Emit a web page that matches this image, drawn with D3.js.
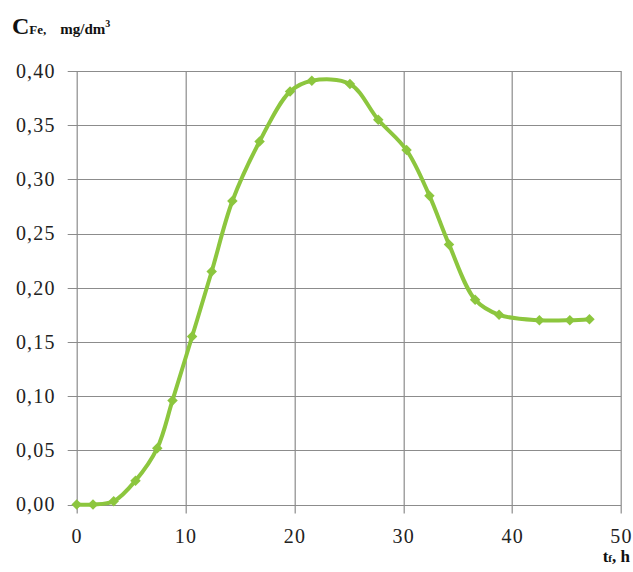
<!DOCTYPE html>
<html>
<head>
<meta charset="utf-8">
<script src="https://cdn.jsdelivr.net/npm/d3@7"></script>
<style>
  body { margin: 0; background: #fff; }
  text { font-family: "Liberation Serif", "Times New Roman", serif; }
</style>
</head>
<body>
<div id="chart"></div>
<script>
// time, h and iron concentration, mg/dm3
var hours = [0, 1.5, 3.4, 5.4, 7.4, 8.8, 10.6, 12.4, 14.3, 16.8, 19.6, 21.6, 25.1, 27.7, 30.3, 32.4, 34.2, 36.6, 38.8, 42.5, 45.3, 47.1];
var conc  = [0, 0, 0.003, 0.022, 0.052, 0.096, 0.155, 0.215, 0.280, 0.335, 0.381, 0.391, 0.388, 0.355, 0.327, 0.285, 0.240, 0.189, 0.175, 0.170, 0.170, 0.171];
var xTicks = [0, 10, 20, 30, 40, 50];
var yTicks = [0, 0.05, 0.10, 0.15, 0.20, 0.25, 0.30, 0.35, 0.40];

var W = 633, H = 572,
    margin = {top: 71, right: 12, bottom: 67.5, left: 76.7},
    width = W - margin.left - margin.right,
    height = H - margin.top - margin.bottom;

var green = "#8cc63e", gridColor = "#8c8c8c";
var serif = '"Liberation Serif", "Times New Roman", serif';

var svg = d3.select("#chart").append("svg")
    .attr("width", W).attr("height", H)
  .append("g")
    .attr("transform", "translate(" + margin.left + "," + margin.top + ")");

var x = d3.scaleLinear().domain([0, 50]).range([0, width]);
var y = d3.scaleLinear().domain([0, 0.40]).range([height, 0]);

// gridlines
svg.append("g")
   .selectAll("line.gy").data(yTicks).enter().append("line")
   .attr("x1", -9).attr("x2", width)
   .attr("y1", d => Math.round(y(d)) + 0.5).attr("y2", d => Math.round(y(d)) + 0.5)
   .attr("stroke", gridColor).attr("stroke-width", 1.2);
svg.append("g")
   .selectAll("line.gx").data(xTicks).enter().append("line")
   .attr("y1", 0).attr("y2", height + 9)
   .attr("x1", d => Math.round(x(d)) + 0.5).attr("x2", d => Math.round(x(d)) + 0.5)
   .attr("stroke", gridColor).attr("stroke-width", 1.2);

// axis labels
var fmt = d3.format(".2f");
svg.append("g")
   .attr("font-family", serif)
   .call(d3.axisLeft(y).tickValues(yTicks).tickSize(0).tickPadding(21)
         .tickFormat(d => fmt(d).replace(".", ",")))
   .attr("font-family", serif)
   .call(g => g.select(".domain").remove())
   .selectAll("text")
   .style("font-family", serif)
   .style("font-size", "20px").attr("fill", "#222")
   .attr("letter-spacing", "1.2px");

svg.append("g")
   .attr("transform", "translate(0," + height + ")")
   .call(d3.axisBottom(x).tickValues(xTicks).tickSize(0).tickPadding(24))
   .attr("font-family", serif)
   .call(g => g.select(".domain").remove())
   .selectAll("text")
   .style("font-family", serif)
   .style("font-size", "20px").attr("fill", "#222")
   .attr("letter-spacing", "1.2px");

// curve
var pts = hours.map((h, i) => [h, conc[i]]);
svg.append("path")
   .datum(pts)
   .attr("fill", "none")
   .attr("stroke", green)
   .attr("stroke-width", 4)
   .attr("stroke-linejoin", "round")
   .attr("d", d3.line().x(d => x(d[0])).y(d => y(d[1])).curve(d3.curveCatmullRom.alpha(0.5)));

svg.selectAll(".marker").data(pts).enter().append("path")
   .attr("class", "marker")
   .attr("d", d3.symbol().type(d3.symbolSquare).size(55))
   .attr("transform", d => "translate(" + x(d[0]) + "," + y(d[1]) + ") rotate(45)")
   .attr("fill", green);

// title
var title = d3.select("svg").append("text")
   .attr("x", 12).attr("y", 34)
   .attr("font-weight", "bold").attr("fill", "#111");
title.append("tspan").text("C").style("font-size", "24px");
title.append("tspan").text("Fe,").style("font-size", "13px");
title.append("tspan").text("mg/dm").attr("dx", 14).style("font-size", "15px");
title.append("tspan").text("3").attr("dy", -7).style("font-size", "10px");

// x axis title
var xt = d3.select("svg").append("text")
   .attr("x", 630).attr("y", 562)
   .attr("text-anchor", "end")
   .attr("font-weight", "bold").attr("fill", "#111");
xt.append("tspan").text("t").style("font-size", "17px");
xt.append("tspan").text("f").style("font-size", "11px");
xt.append("tspan").text(", h").style("font-size", "17px");
</script>
</body>
</html>
